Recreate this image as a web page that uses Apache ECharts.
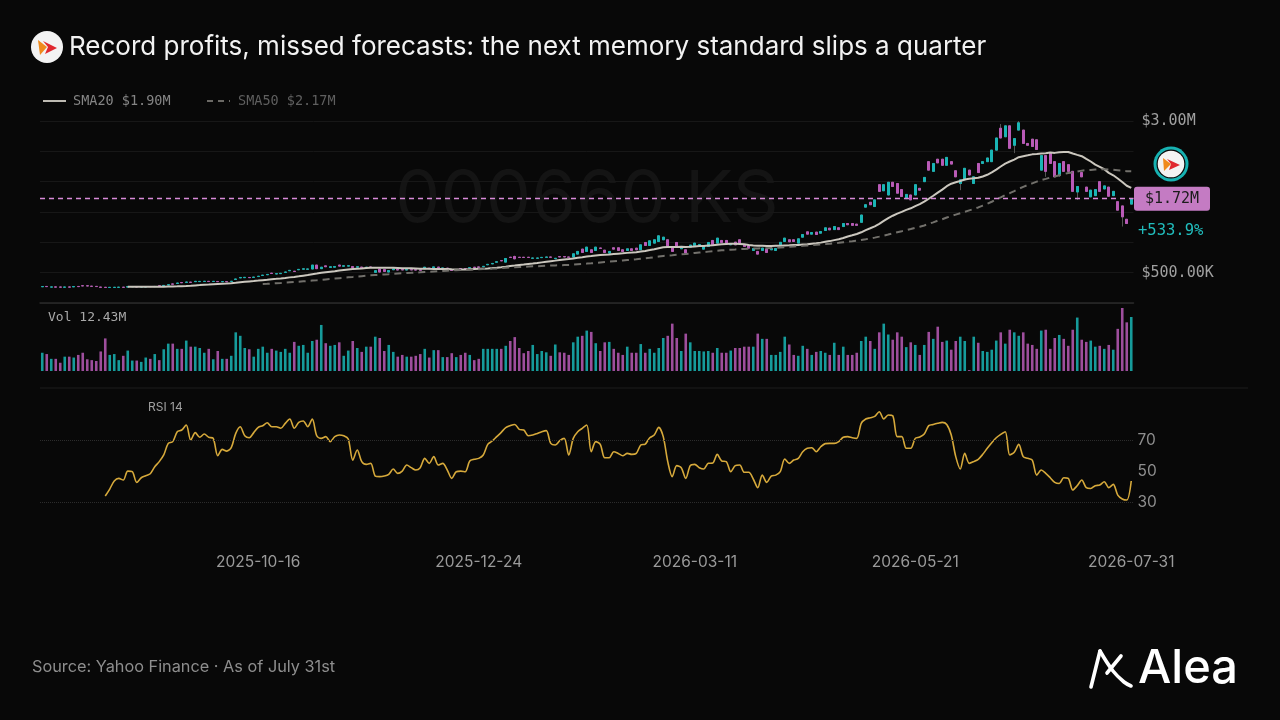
<!DOCTYPE html>
<html>
<head>
<meta charset="utf-8">
<script src="https://cdn.jsdelivr.net/npm/echarts@6/dist/echarts.min.js"></script>
<style>
  html, body { margin: 0; padding: 0; background: #080808; }
  #chart { width: 1280px; height: 720px; }
</style>
</head>
<body>
<div id="chart"></div>
<script>
// daily candles, SK hynix (000660.KS), values in $M
const opens = [
  0.268, 0.273, 0.262, 0.265, 0.263, 0.260, 0.264, 0.266, 0.273, 0.285,
  0.284, 0.277, 0.274, 0.262, 0.259, 0.255, 0.256, 0.258, 0.260, 0.264,
  0.268, 0.268, 0.264, 0.265, 0.272, 0.270, 0.284, 0.286, 0.297, 0.314,
  0.322, 0.338, 0.341, 0.343, 0.352, 0.353, 0.355, 0.357, 0.354, 0.355,
  0.351, 0.353, 0.355, 0.388, 0.414, 0.418, 0.421, 0.422, 0.436, 0.454,
  0.466, 0.492, 0.479, 0.484, 0.505, 0.532, 0.524, 0.548, 0.557, 0.556,
  0.560, 0.625, 0.566, 0.612, 0.586, 0.590, 0.625, 0.606, 0.608, 0.600,
  0.590, 0.592, 0.586, 0.594, 0.505, 0.560, 0.550, 0.510, 0.548, 0.555,
  0.550, 0.544, 0.550, 0.548, 0.546, 0.565, 0.575, 0.580, 0.592, 0.570,
  0.575, 0.550, 0.540, 0.565, 0.568, 0.575, 0.590, 0.594, 0.598, 0.630,
  0.645, 0.672, 0.700, 0.674, 0.755, 0.767, 0.754, 0.754, 0.754, 0.737,
  0.737, 0.748, 0.753, 0.758, 0.730, 0.765, 0.765, 0.758, 0.756, 0.806,
  0.888, 0.850, 0.877, 0.866, 0.907, 0.871, 0.822, 0.910, 0.910, 0.877,
  0.866, 0.893, 0.904, 0.877, 0.998, 0.948, 0.987, 1.014, 1.042, 1.042,
  0.915, 0.998, 0.894, 0.877, 0.921, 0.948, 0.960, 0.888, 0.932, 1.031,
  0.987, 1.031, 1.031, 0.960, 1.003, 1.042, 0.959, 0.943, 0.866, 0.850,
  0.866, 0.888, 0.877, 0.866, 0.960, 1.014, 1.042, 1.042, 0.987, 1.085,
  1.173, 1.135, 1.168, 1.151, 1.195, 1.233, 1.210, 1.240, 1.260, 1.310,
  1.310, 1.300, 1.330, 1.580, 1.660, 1.590, 1.950, 1.850, 1.780, 1.990,
  1.970, 1.870, 1.720, 1.780, 1.780, 1.890, 2.000, 2.330, 2.170, 2.370,
  2.370, 2.270, 2.330, 2.180, 1.970, 2.030, 2.190, 1.970, 2.300, 2.300,
  2.330, 2.330, 2.520, 2.880, 2.740, 2.920, 2.600, 2.850, 2.850, 2.630,
  2.700, 2.690, 2.190, 2.430, 2.470, 2.330, 2.100, 2.330, 2.280, 2.170,
  1.830, 2.150, 1.910, 1.750, 1.770, 2.000, 1.880, 1.910, 1.770, 1.670,
  1.600, 1.380, 1.630
];
const closes = [
  0.27135, 0.270, 0.265, 0.262, 0.261, 0.263, 0.262, 0.272, 0.270, 0.282,
  0.281, 0.274, 0.271, 0.258, 0.256, 0.258, 0.259, 0.260, 0.258, 0.268,
  0.272, 0.265, 0.266, 0.267, 0.270, 0.273, 0.281, 0.290, 0.301, 0.310,
  0.329, 0.334, 0.345, 0.340, 0.357, 0.356, 0.358, 0.354, 0.357, 0.352,
  0.354, 0.350, 0.358, 0.396, 0.421, 0.423, 0.418, 0.427, 0.441, 0.459,
  0.471, 0.486, 0.483, 0.489, 0.511, 0.538, 0.519, 0.554, 0.564, 0.561,
  0.625, 0.566, 0.590, 0.598, 0.598, 0.602, 0.608, 0.614, 0.615, 0.585,
  0.598, 0.585, 0.590, 0.588, 0.533, 0.510, 0.520, 0.535, 0.562, 0.543,
  0.545, 0.550, 0.545, 0.543, 0.540, 0.590, 0.565, 0.595, 0.585, 0.578,
  0.565, 0.537, 0.550, 0.560, 0.563, 0.582, 0.585, 0.590, 0.604, 0.637,
  0.652, 0.680, 0.694, 0.734, 0.750, 0.729, 0.750, 0.750, 0.750, 0.742,
  0.742, 0.752, 0.758, 0.754, 0.737, 0.760, 0.760, 0.754, 0.811, 0.850,
  0.833, 0.921, 0.833, 0.921, 0.900, 0.833, 0.850, 0.888, 0.866, 0.850,
  0.893, 0.866, 0.877, 0.959, 0.948, 1.025, 1.042, 1.107, 1.085, 0.932,
  0.850, 0.932, 0.932, 0.822, 0.954, 0.987, 0.965, 0.932, 0.998, 0.959,
  1.069, 0.998, 0.987, 0.970, 0.959, 0.987, 0.932, 0.904, 0.899, 0.806,
  0.904, 0.833, 0.899, 0.899, 1.000, 1.069, 1.009, 1.014, 1.058, 1.129,
  1.135, 1.162, 1.129, 1.179, 1.239, 1.206, 1.260, 1.210, 1.310, 1.290,
  1.280, 1.280, 1.450, 1.620, 1.620, 1.700, 1.840, 1.950, 1.990, 1.920,
  1.810, 1.755, 1.790, 1.700, 1.950, 1.860, 2.070, 2.190, 2.300, 2.310,
  2.270, 2.400, 2.290, 2.080, 2.030, 2.220, 2.110, 2.080, 2.150, 2.330,
  2.390, 2.520, 2.720, 2.720, 2.920, 2.550, 2.710, 2.970, 2.630, 2.600,
  2.580, 2.530, 2.430, 2.170, 2.300, 2.080, 2.300, 2.170, 2.170, 1.840,
  1.920, 2.080, 1.840, 1.860, 1.870, 1.840, 1.930, 1.760, 1.840, 1.530,
  1.420, 1.310, 1.720
];
// the few candles with a visible wick: [index, low, high]
const wicks = [
  [105, 0.720, 0.780], [137, 1.014, 1.120], [204, 1.860, 2.030], [213, 2.720, 2.950],
  [216, 2.470, 2.710], [217, 2.850, 3.000], [223, 2.080, 2.430], [226, 2.080, 2.300],
  [230, 1.700, 1.920], [240, 1.260, 1.600]
];
// volume, millions of shares
const volumes = [
  4.2, 3.9, 2.8, 2.8, 1.9, 3.3, 3.3, 3.1, 3.7, 4.2,
  2.7, 2.5, 2.3, 4.5, 7.5, 3.7, 3.9, 2.5, 3.5, 4.7,
  2.4, 2.4, 2.1, 3.1, 2.8, 3.9, 2.5, 5.0, 6.3, 6.3,
  5.1, 5.1, 7.0, 5.6, 5.6, 5.3, 4.2, 5.1, 2.7, 4.6,
  2.8, 2.8, 3.5, 8.9, 8.1, 5.3, 5.0, 3.3, 5.1, 5.6,
  4.2, 5.1, 4.7, 4.4, 5.1, 4.2, 6.7, 5.8, 6.0, 4.2,
  6.9, 7.2, 10.6, 6.4, 5.8, 6.0, 6.6, 3.5, 4.7, 6.9,
  5.3, 4.4, 5.6, 5.6, 7.9, 7.6, 4.6, 6.0, 4.4, 3.3,
  3.7, 3.3, 3.3, 3.5, 3.9, 5.1, 3.1, 4.8, 4.8, 3.2,
  3.2, 4.1, 3.2, 3.7, 4.2, 3.7, 2.5, 2.8, 5.1, 5.1,
  5.1, 5.1, 5.1, 5.8, 6.9, 7.8, 5.3, 4.1, 4.6, 6.0,
  3.9, 4.6, 4.3, 3.5, 6.1, 4.3, 4.2, 3.7, 6.6, 7.9,
  8.1, 9.3, 9.0, 6.4, 4.6, 6.6, 6.7, 5.1, 4.2, 3.7,
  5.6, 4.2, 4.2, 6.2, 4.2, 5.1, 4.2, 5.3, 7.6, 8.1,
  10.9, 7.6, 4.6, 8.6, 6.6, 4.6, 4.6, 4.5, 4.6, 4.2,
  5.3, 4.2, 4.2, 4.7, 5.3, 5.3, 5.6, 5.6, 5.6, 8.6,
  7.4, 7.4, 3.7, 3.7, 4.4, 7.9, 6.1, 3.7, 3.5, 5.8,
  5.1, 3.7, 4.4, 4.6, 4.2, 3.7, 6.5, 3.7, 5.6, 3.7,
  3.7, 4.2, 6.9, 7.9, 6.9, 5.1, 8.9, 10.9, 8.4, 7.2,
  8.9, 7.9, 5.5, 6.6, 6.0, 3.7, 6.0, 9.0, 7.4, 10.2,
  6.7, 7.0, 4.9, 6.9, 7.9, 6.9, 0.2, 7.9, 6.5, 4.6,
  4.4, 4.9, 7.0, 8.9, 6.3, 9.5, 8.9, 8.1, 8.9, 6.3,
  6.0, 5.1, 9.3, 9.5, 5.1, 7.6, 8.3, 7.4, 5.8, 9.5,
  12.3, 7.2, 6.7, 7.0, 5.6, 5.8, 5.1, 6.0, 4.9, 9.7,
  14.5, 11.2, 12.43
];
// RSI(14), first value is day 15
const rsi = [
  34.3, 38.8, 44.0, 45.7, 44.6, 50.4, 50.0, 43.1, 46.1, 47.4,
  48.7, 53.2, 56.5, 60.8, 68.3, 69.4, 75.8, 76.9, 80.1, 70.4,
  75.2, 72.2, 74.3, 72.2, 71.5, 60.3, 64.4, 63.3, 65.5, 74.7,
  79.0, 73.2, 71.9, 75.2, 78.6, 79.7, 81.6, 79.0, 79.0, 78.0,
  81.2, 84.0, 78.0, 81.8, 82.7, 79.0, 84.0, 73.2, 71.5, 72.6,
  69.4, 72.6, 73.7, 73.2, 71.1, 57.5, 64.0, 56.5, 54.7, 55.4,
  47.2, 46.8, 47.2, 48.3, 51.7, 48.9, 50.4, 54.3, 52.6, 51.1,
  52.6, 58.6, 55.4, 59.7, 54.3, 55.4, 51.1, 45.7, 50.0, 50.4,
  50.0, 56.9, 58.0, 58.6, 60.8, 67.6, 69.8, 72.6, 75.4, 78.4,
  79.7, 80.5, 77.3, 76.9, 73.2, 73.7, 74.7, 75.8, 76.5, 68.3,
  67.2, 70.0, 71.5, 60.8, 71.5, 75.8, 78.0, 80.1, 62.9, 69.4,
  67.6, 59.0, 59.0, 62.9, 61.8, 60.3, 61.8, 61.2, 61.8, 67.2,
  67.8, 71.9, 73.7, 78.6, 72.6, 56.5, 46.8, 53.9, 52.6, 45.7,
  53.9, 54.7, 52.6, 51.7, 55.4, 55.6, 61.2, 56.9, 56.5, 50.0,
  53.9, 54.3, 49.6, 49.6, 45.3, 39.7, 47.8, 43.1, 47.2, 47.8,
  50.0, 58.2, 55.4, 57.5, 58.6, 62.9, 65.1, 65.5, 62.9, 66.1,
  68.1, 68.3, 68.3, 69.4, 72.2, 72.6, 71.9, 71.5, 81.2, 84.0,
  84.8, 85.7, 88.7, 84.0, 86.6, 86.1, 72.6, 72.6, 65.1, 65.1,
  71.5, 72.4, 74.3, 79.7, 80.5, 81.2, 81.8, 80.5, 73.7, 59.7,
  51.7, 61.8, 55.4, 56.5, 58.0, 61.2, 65.1, 68.7, 71.9, 74.1,
  75.8, 60.8, 62.5, 67.6, 59.7, 58.6, 57.5, 47.8, 51.1, 48.9,
  46.1, 43.1, 42.4, 46.1, 45.7, 38.2, 41.0, 44.6, 39.7, 39.2,
  41.0, 41.4, 43.5, 39.7, 41.8, 34.9, 32.4, 31.7, 44.0
];
// x tick labels and the candle they sit on
const tickIndex = [48, 97, 145, 194, 242];
const tickLabels = ['2025-10-16', '2025-12-24', '2026-03-11', '2026-05-21', '2026-07-31'];
const priceTicks = [0.5, 3];
const priceTickLabels = ['$500.00K', '$3.00M'];
const rsiTicks = [30, 50, 70];

const UP = '#19b5b5';
const DOWN = '#b95ab7';
const BG = '#080808';
const MONO = '"DejaVu Sans Mono", "Liberation Mono", monospace';
const SANS = 'Inter, "Noto Sans", sans-serif';

const N = closes.length;
const cats = closes.map((_, i) => String(i));

function sma(n) {
  return closes.map((_, i) => {
    if (i < n - 1) return '-';
    let s = 0;
    for (let k = i - n + 1; k <= i; k++) s += closes[k];
    return +(s / n).toFixed(4);
  });
}
const sma20 = sma(20);
const sma50 = sma(50);

const lows = opens.map((o, i) => Math.min(o, closes[i]));
const highs = opens.map((o, i) => Math.max(o, closes[i]));
wicks.forEach(w => { lows[w[0]] = w[1]; highs[w[0]] = w[2]; });

const wickData = opens.map((o, i) => [o, closes[i], lows[i], highs[i]]);
const bodyData = opens.map((o, i) => [o, closes[i], Math.min(o, closes[i]), Math.max(o, closes[i])]);
const volData = volumes.map((v, i) => ({
  value: v,
  itemStyle: { color: closes[i] >= opens[i] ? UP : DOWN, opacity: 0.85 }
}));
const rsiData = new Array(N - rsi.length).fill('-').concat(rsi);

const last = closes[N - 1];
const first = closes[0];
const pct = ((last / first - 1) * 100).toFixed(1);

const chart = echarts.init(document.getElementById('chart'));
const gridL = 40, gridW = 1093.5;

chart.setOption({
  backgroundColor: BG,
  animation: false,
  grid: [
    { left: gridL, width: gridW, top: 121, height: 182 },
    { left: gridL, width: gridW, top: 308, height: 63 },
    { left: gridL, width: gridW, top: 394.2, height: 155 }
  ],
  xAxis: [
    {
      type: 'category', gridIndex: 0, data: cats, boundaryGap: true,
      axisLine: { show: true, lineStyle: { color: '#2a2a2a', width: 1.5 } },
      axisTick: { show: false }, axisLabel: { show: false }, splitLine: { show: false }
    },
    {
      type: 'category', gridIndex: 1, data: cats, boundaryGap: true,
      axisLine: { show: false }, axisTick: { show: false }, axisLabel: { show: false }
    },
    {
      type: 'category', gridIndex: 2, data: cats, boundaryGap: true,
      axisLine: { show: false }, axisTick: { show: false },
      axisLabel: {
        interval: (idx) => tickIndex.indexOf(idx) >= 0,
        formatter: (v, idx) => {
          const k = tickIndex.indexOf(idx);
          return k < 0 ? '' : tickLabels[k];
        },
        color: '#9a9a9a', fontFamily: SANS, fontSize: 15.5, margin: 5
      }
    }
  ],
  yAxis: [
    {
      type: 'value', gridIndex: 0, position: 'right', min: 0, max: 3, interval: 0.5,
      axisLine: { show: false }, axisTick: { show: false },
      splitLine: { lineStyle: { color: '#171717', width: 1 } },
      axisLabel: {
        formatter: (v) => {
          const k = priceTicks.indexOf(v);
          return k < 0 ? '' : priceTickLabels[k];
        },
        color: '#a0a0a0', fontFamily: MONO, fontSize: 15, margin: 8
      }
    },
    {
      type: 'value', gridIndex: 1, min: 0, max: Math.max(...volumes), show: false
    },
    {
      type: 'value', gridIndex: 2, position: 'right', min: 0, max: 100, interval: 10,
      axisLine: { show: false }, axisTick: { show: false }, splitLine: { show: false },
      axisLabel: {
        formatter: (v) => rsiTicks.indexOf(v) >= 0 ? String(v) : '',
        color: '#8e8e8e', fontFamily: SANS, fontSize: 15.5, margin: 4
      }
    }
  ],
  series: [
    {
      name: 'wick', type: 'candlestick', xAxisIndex: 0, yAxisIndex: 0,
      data: wickData, barWidth: 2.6, z: 2,
      itemStyle: { color: '#555', color0: '#555', borderColor: '#555', borderColor0: '#555', borderWidth: 1 }
    },
    {
      name: 'price', type: 'candlestick', xAxisIndex: 0, yAxisIndex: 0,
      data: bodyData, barWidth: 2.6, z: 3,
      itemStyle: { color: UP, color0: DOWN, borderColor: UP, borderColor0: DOWN, borderWidth: 1 },
      markLine: {
        silent: true, symbol: ['none', 'none'],
        label: { show: false },
        lineStyle: { color: '#d88ad8', type: [5, 4], width: 1.4 },
        data: [{ yAxis: last }]
      }
    },
    {
      name: 'SMA20', type: 'line', xAxisIndex: 0, yAxisIndex: 0,
      data: sma20, showSymbol: false, z: 4,
      lineStyle: { color: '#cbc7be', width: 2 }
    },
    {
      name: 'SMA50', type: 'line', xAxisIndex: 0, yAxisIndex: 0,
      data: sma50, showSymbol: false, z: 4,
      lineStyle: { color: '#72706b', width: 2, type: [7, 5] }
    },
    {
      name: 'Volume', type: 'bar', xAxisIndex: 1, yAxisIndex: 1,
      data: volData, barWidth: 2.6
    },
    {
      name: 'RSI', type: 'line', xAxisIndex: 2, yAxisIndex: 2,
      data: rsiData, showSymbol: false, smooth: 0.3,
      lineStyle: { color: '#d6a93b', width: 1.6 },
      markLine: {
        silent: true, symbol: ['none', 'none'],
        label: { show: false },
        lineStyle: { color: '#2c2c2c', type: 'dotted', width: 1 },
        data: [{ yAxis: 70 }, { yAxis: 30 }]
      }
    }
  ]
});

const py = chart.convertToPixel({ yAxisIndex: 0 }, last);
const sma20Last = sma20[N - 1], sma50Last = sma50[N - 1];

chart.setOption({
  graphic: [
    // watermark
    { type: 'text', id: 'wm', left: 395, top: 164, z: -10, silent: true,
      style: { text: '000660.KS', font: '72px ' + SANS, fill: '#141414' } },
    // title logo
    { type: 'circle', id: 'tl0', shape: { cx: 47, cy: 47, r: 16 }, style: { fill: '#f3f3f3' } },
    { type: 'polygon', id: 'tl1', shape: { points: [[38, 40], [47, 47], [40, 55]] }, style: { fill: '#f08a1c' } },
    { type: 'polygon', id: 'tl2', shape: { points: [[43, 41], [57, 48], [45, 54], [48, 47]] }, style: { fill: '#e0282f' } },
    { type: 'text', id: 'title', x: 69, y: 47,
      style: { text: 'Record profits, missed forecasts: the next memory standard slips a quarter',
        font: '400 26px ' + SANS, fill: '#f2f2f2', verticalAlign: 'middle' } },
    // legend
    { type: 'line', id: 'lg1', shape: { x1: 43, y1: 101, x2: 66, y2: 101 },
      style: { stroke: '#bdbab2', lineWidth: 2 } },
    { type: 'text', id: 'lg1t', x: 73, y: 101,
      style: { text: 'SMA20 $' + sma20Last.toFixed(2) + 'M', font: '13.5px ' + MONO, fill: '#858585', verticalAlign: 'middle' } },
    { type: 'line', id: 'lg2', shape: { x1: 207, y1: 101, x2: 230, y2: 101 },
      style: { stroke: '#6b6965', lineWidth: 2, lineDash: [6, 5] } },
    { type: 'text', id: 'lg2t', x: 238, y: 101,
      style: { text: 'SMA50 $' + sma50Last.toFixed(2) + 'M', font: '13.5px ' + MONO, fill: '#5f5f5f', verticalAlign: 'middle' } },
    // panel labels
    { type: 'text', id: 'vol', x: 48, y: 318,
      style: { text: 'Vol ' + volumes[N - 1].toFixed(2) + 'M', font: '13px ' + MONO, fill: '#a8a8a8', verticalAlign: 'middle' } },
    { type: 'line', id: 'sep', shape: { x1: 40, y1: 388, x2: 1248, y2: 388 },
      style: { stroke: '#1c1c1c', lineWidth: 1 } },
    { type: 'text', id: 'rsil', x: 148, y: 407,
      style: { text: 'RSI 14', font: '12px ' + SANS, fill: '#a0a0a0', verticalAlign: 'middle' } },
    // last price tag
    { type: 'rect', id: 'tag', shape: { x: 1134, y: py - 12, width: 76, height: 24, r: 3 },
      style: { fill: '#c47bc3' } },
    { type: 'text', id: 'tagt', x: 1172, y: py,
      style: { text: '$' + last.toFixed(2) + 'M', font: '15px ' + MONO, fill: '#1c1c1c', align: 'center', verticalAlign: 'middle' } },
    { type: 'text', id: 'pct', x: 1138, y: py + 32,
      style: { text: '+' + pct + '%', font: '15.5px ' + MONO, fill: '#21bdbd', verticalAlign: 'middle' } },
    // ticker logo
    { type: 'circle', id: 'rl0', shape: { cx: 1171, cy: 164, r: 17.5 }, style: { fill: '#17b2b2' } },
    { type: 'circle', id: 'rl1', shape: { cx: 1171, cy: 164, r: 14.5 }, style: { fill: '#080808' } },
    { type: 'circle', id: 'rl2', shape: { cx: 1171, cy: 164, r: 13.3 }, style: { fill: '#f3f3f3' } },
    { type: 'polygon', id: 'rl3', shape: { points: [[1163, 158], [1171, 164], [1164, 171]] }, style: { fill: '#f08a1c' } },
    { type: 'polygon', id: 'rl4', shape: { points: [[1167, 159], [1180, 165], [1169, 170], [1171, 164]] }, style: { fill: '#e0282f' } },
    // footer
    { type: 'text', id: 'src', x: 32, y: 667,
      style: { text: 'Source: Yahoo Finance · As of July 31st', font: '16.3px ' + SANS, fill: '#8e8e8e', verticalAlign: 'middle' } },
    { type: 'polyline', id: 'al1', shape: { points: [[1091, 687], [1100, 651]] },
      style: { stroke: '#ffffff', lineWidth: 3.6, lineCap: 'round' } },
    { type: 'polyline', id: 'al2', shape: { points: [[1100, 651], [1113, 671], [1124, 682], [1131, 686]], smooth: 0.4 },
      style: { stroke: '#ffffff', lineWidth: 3.6, lineCap: 'round', fill: null } },
    { type: 'polyline', id: 'al3', shape: { points: [[1107, 673], [1121, 656]] },
      style: { stroke: '#ffffff', lineWidth: 3.6, lineCap: 'round' } },
    { type: 'text', id: 'alea', x: 1138, y: 669,
      style: { text: 'Alea', font: '500 47px ' + SANS, fill: '#ffffff', verticalAlign: 'middle' } }
  ]
});
</script>
</body>
</html>
